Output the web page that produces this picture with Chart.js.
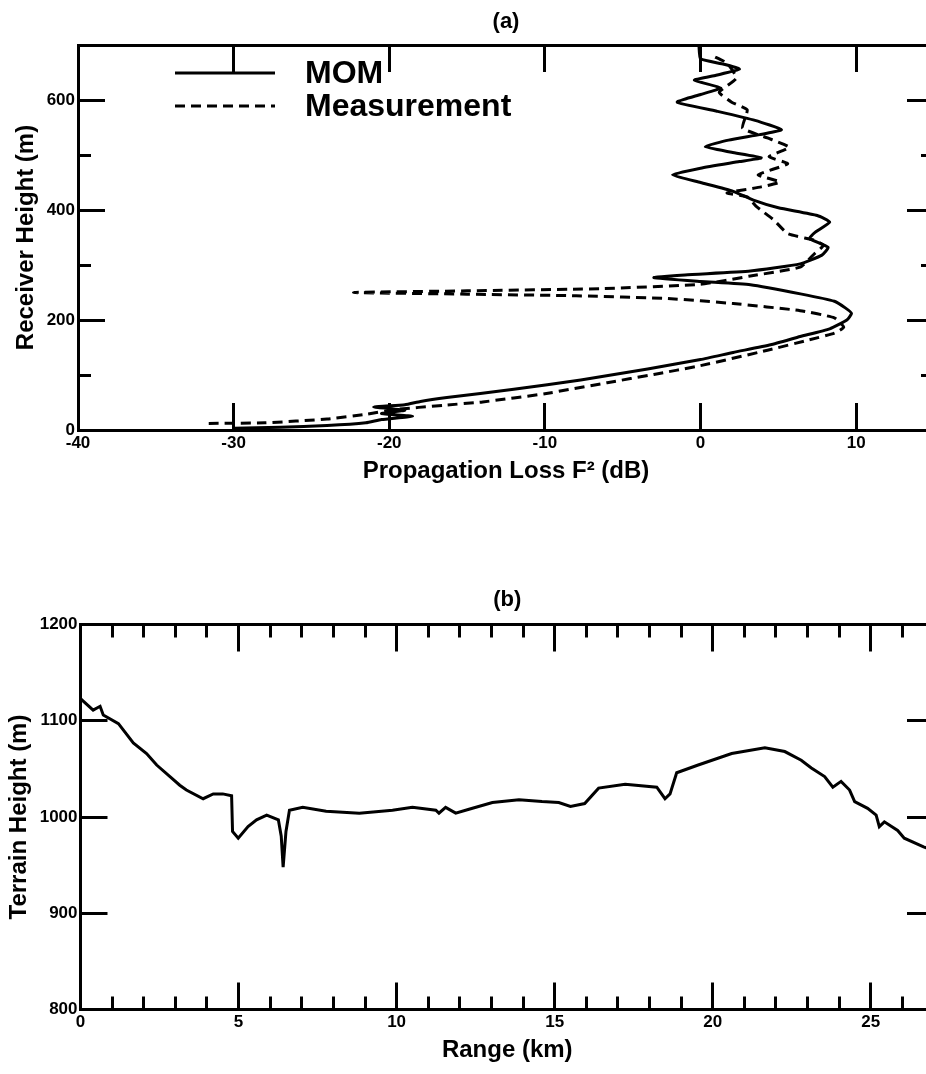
<!DOCTYPE html>
<html>
<head>
<meta charset="utf-8">
<script src="https://cdn.jsdelivr.net/npm/chart.js@4.4.0/dist/chart.umd.min.js"></script>
<style>
  html, body { margin: 0; padding: 0; background: #fff; overflow: hidden; width: 926px; height: 1074px; }
  canvas { position: absolute; left: 0; }
  #chartA { top: 0; }
  #chartB { top: 560px; }
</style>
</head>
<body>
<canvas id="chartA" width="960" height="500"></canvas>
<canvas id="chartB" width="960" height="514"></canvas>
<script>
// (a) propagation loss F^2 (dB) against receiver height (m)
const momLoss = [-30, -27, -24, -21.5, -20.5, -18.5, -20.5, -19, -21, -19, -18, -16.3, -12, -7.7, -3.4, 0, 2.1, 4.5, 6.4, 8.3, 9.4, 9.7, 9.3, 8.6, 6.5, 3.2, 0, -3, -1, 3.2, 6.4, 7.8, 8.2, 7.0, 7.3, 8.3, 7.5, 5, 3.4, 2.1, 0, -1.8, 0, 2.5, 3.9, 2, 0.3, 1.8, 3.8, 5.2, 3.5, 1, -1.5, 0, 1.3, -0.4, 1, 2.5, 1.5, 0, -0.1];
const momHeight = [3, 5, 8, 13, 19, 25, 30, 36, 42, 46, 52, 59, 74, 91, 111, 128, 141, 155, 170, 184, 200, 212, 222, 234, 247, 264, 270, 277, 282, 289, 302, 318, 332, 348, 358, 378, 390, 404, 418, 434, 450, 464, 476, 488, 495, 505, 515, 527, 537, 546, 563, 580, 596, 610, 622, 636, 645, 656, 665, 675, 698];

const measLoss = [-31.6, -28, -24, -21.4, -19.7, -16.5, -14, -10, -6, -3, 0, 4.3, 7, 8.6, 9.2, 8.6, 6.4, 2.1, -2.1, -8, -15, -22.3, -15, -6.4, 0, 3.2, 6.4, 7.3, 7.9, 7.3, 5.6, 4.7, 3.6, 3.0, 1.7, 3.9, 5.1, 3.7, 5.6, 4.4, 5.7, 4.3, 2.7, 3.0, 2.0, 1.2, 2.3, 1.7, 0.8];
const measHeight = [12, 13, 20, 29, 37, 45, 51, 66, 86, 101, 117, 145, 164, 176, 187, 204, 217, 230, 239, 244, 247, 250, 253, 257, 265, 280, 296, 320, 336, 345, 357, 382, 406, 424, 431, 442, 451, 464, 484, 497, 514, 531, 549, 582, 596, 614, 640, 667, 680];

// (b) terrain profile
const rangeKm = [0, 0.4, 0.62, 0.72, 1.2, 1.67, 2.09, 2.41, 2.83, 3.14, 3.35, 3.88, 4.2, 4.5, 4.78, 4.81, 4.99, 5.3, 5.57, 5.89, 6.26, 6.35, 6.41, 6.5, 6.61, 7.03, 7.77, 8.82, 9.87, 10.5, 11.24, 11.34, 11.55, 11.87, 12.29, 13.03, 13.87, 14.6, 15.13, 15.5, 15.95, 16.39, 17.23, 18.23, 18.49, 18.65, 18.86, 19.54, 20.6, 21.65, 22.28, 22.8, 23.12, 23.54, 23.8, 24.06, 24.33, 24.49, 24.9, 25.17, 25.27, 25.43, 25.85, 26.06, 26.67, 27];
const terrainHeight = [1123, 1111, 1115, 1106, 1097, 1077, 1066, 1054, 1042, 1033, 1028, 1019, 1024, 1024, 1022, 985, 978, 990, 997, 1002, 997, 980, 948, 985, 1007, 1010, 1006, 1004, 1007, 1010, 1007, 1004, 1010, 1004, 1008, 1015, 1018, 1016, 1015, 1011, 1014, 1030, 1034, 1031, 1019, 1024, 1046, 1054, 1066, 1072, 1068, 1059, 1051, 1042, 1031, 1037, 1028, 1016, 1009, 1002, 990, 995, 986, 978, 969, 965];

const FONT = '"Liberation Sans", Arial, Helvetica, sans-serif';
Chart.defaults.font.family = FONT;
Chart.defaults.color = '#000';

const toPoints = (xs, ys) => xs.map((x, i) => ({ x, y: ys[i] }));

// ticks drawn inward: negative tick length, labels pushed back out by padding
function axis(o) {
  return {
    type: 'linear',
    axis: o.axis,
    position: o.position,
    min: o.min,
    max: o.max,
    weight: o.weight || 0,
    grid: { drawOnChartArea: false, drawTicks: true, tickLength: -o.tick, tickWidth: 3, tickColor: '#000' },
    border: { display: !!o.border, width: 3, color: '#000' },
    ticks: {
      display: !!o.labels,
      stepSize: o.step,
      includeBounds: false,
      autoSkip: false,
      maxRotation: 0,
      padding: o.tick + 3,
      font: { size: 17, weight: 'bold' },
      color: '#000',
      callback: v => String(v)
    },
    title: o.title
      ? { display: true, text: o.title, font: { size: 24, weight: 'bold' }, color: '#000', padding: o.titlePad }
      : { display: false },
    afterFit(scale) {
      if (scale.isHorizontal()) scale.height = o.size || 0;
      else scale.width = o.size || 0;
    }
  };
}

const insideLegend = {
  id: 'insideLegend',
  afterDatasetsDraw(chart, args, opts) {
    if (!opts.show) return;
    const ctx = chart.ctx;
    const area = chart.chartArea;
    ctx.save();
    ctx.font = 'bold 32px ' + FONT;
    ctx.textBaseline = 'middle';
    chart.data.datasets.forEach((ds, i) => {
      const x = area.left + opts.left;
      const y = area.top + opts.top + i * opts.spacing;
      ctx.beginPath();
      ctx.setLineDash(ds.borderDash || []);
      ctx.lineWidth = ds.borderWidth;
      ctx.strokeStyle = ds.borderColor;
      ctx.moveTo(x, y);
      ctx.lineTo(x + opts.lineLength, y);
      ctx.stroke();
      ctx.setLineDash([]);
      ctx.fillStyle = '#000';
      ctx.fillText(ds.label, x + opts.lineLength + opts.gap, y + 1);
    });
    ctx.restore();
  }
};

function titleOpts(text, top, bottom) {
  return {
    display: true, text, fullSize: false, color: '#000',
    font: { size: 22, weight: 'bold' },
    padding: { top, bottom }
  };
}

new Chart(document.getElementById('chartA'), {
  type: 'scatter',
  data: {
    datasets: [
      { label: 'MOM', data: toPoints(momLoss, momHeight), showLine: true, borderColor: '#000', borderWidth: 3, pointRadius: 0, tension: 0.15 },
      { label: 'Measurement', data: toPoints(measLoss, measHeight), showLine: true, borderColor: '#000', borderWidth: 3, borderDash: [10, 6], pointRadius: 0, tension: 0.15 }
    ]
  },
  options: {
    responsive: false,
    animation: false,
    layout: { padding: { left: 0, right: 26, top: 0, bottom: 0 } },
    plugins: {
      legend: { display: false },
      tooltip: { enabled: false },
      title: titleOpts('(a)', 9, 9.6),
      insideLegend: { show: true, left: 97, top: 28, spacing: 33, lineLength: 100, gap: 30 }
    },
    scales: {
      x: axis({ axis: 'x', position: 'bottom', min: -40, max: 15, step: 10, tick: 27, weight: 1, border: true, labels: true, size: 70, title: 'Propagation Loss F² (dB)', titlePad: { top: 0, bottom: 14 } }),
      xTop: axis({ axis: 'x', position: 'top', min: -40, max: 15, step: 10, tick: 27, border: true }),
      y: axis({ axis: 'y', position: 'left', min: 0, max: 700, step: 200, tick: 27, weight: 1, border: true, labels: true, size: 78, title: 'Receiver Height (m)', titlePad: { top: 11.6, bottom: 0 } }),
      yMinor: axis({ axis: 'y', position: 'left', min: 0, max: 700, step: 100, tick: 13 }),
      yRight: axis({ axis: 'y', position: 'right', min: 0, max: 700, step: 200, tick: 27, weight: 1, border: true }),
      yRightMinor: axis({ axis: 'y', position: 'right', min: 0, max: 700, step: 100, tick: 13 })
    }
  },
  plugins: [insideLegend]
});

new Chart(document.getElementById('chartB'), {
  type: 'scatter',
  data: {
    datasets: [
      { label: 'Terrain', data: toPoints(rangeKm, terrainHeight), showLine: true, borderColor: '#000', borderWidth: 3, pointRadius: 0, tension: 0 }
    ]
  },
  options: {
    responsive: false,
    animation: false,
    layout: { padding: { left: 0, right: 26, top: 0, bottom: 0 } },
    plugins: {
      legend: { display: false },
      tooltip: { enabled: false },
      title: titleOpts('(b)', 26.8, 11.3),
      insideLegend: { show: false }
    },
    scales: {
      x: axis({ axis: 'x', position: 'bottom', min: 0, max: 27, step: 5, tick: 27, weight: 1, border: true, labels: true, size: 64.5, title: 'Range (km)', titlePad: { top: 0, bottom: 9.6 } }),
      xMinor: axis({ axis: 'x', position: 'bottom', min: 0, max: 27, step: 1, tick: 13 }),
      xTop: axis({ axis: 'x', position: 'top', min: 0, max: 27, step: 5, tick: 27, weight: 1, border: true }),
      xTopMinor: axis({ axis: 'x', position: 'top', min: 0, max: 27, step: 1, tick: 13 }),
      y: axis({ axis: 'y', position: 'left', min: 800, max: 1200, step: 100, tick: 27, border: true, labels: true, size: 80.5, title: 'Terrain Height (m)', titlePad: { top: 4.6, bottom: 0 } }),
      yRight: axis({ axis: 'y', position: 'right', min: 800, max: 1200, step: 100, tick: 27, border: true })
    }
  },
  plugins: [insideLegend]
});
</script>
</body>
</html>
